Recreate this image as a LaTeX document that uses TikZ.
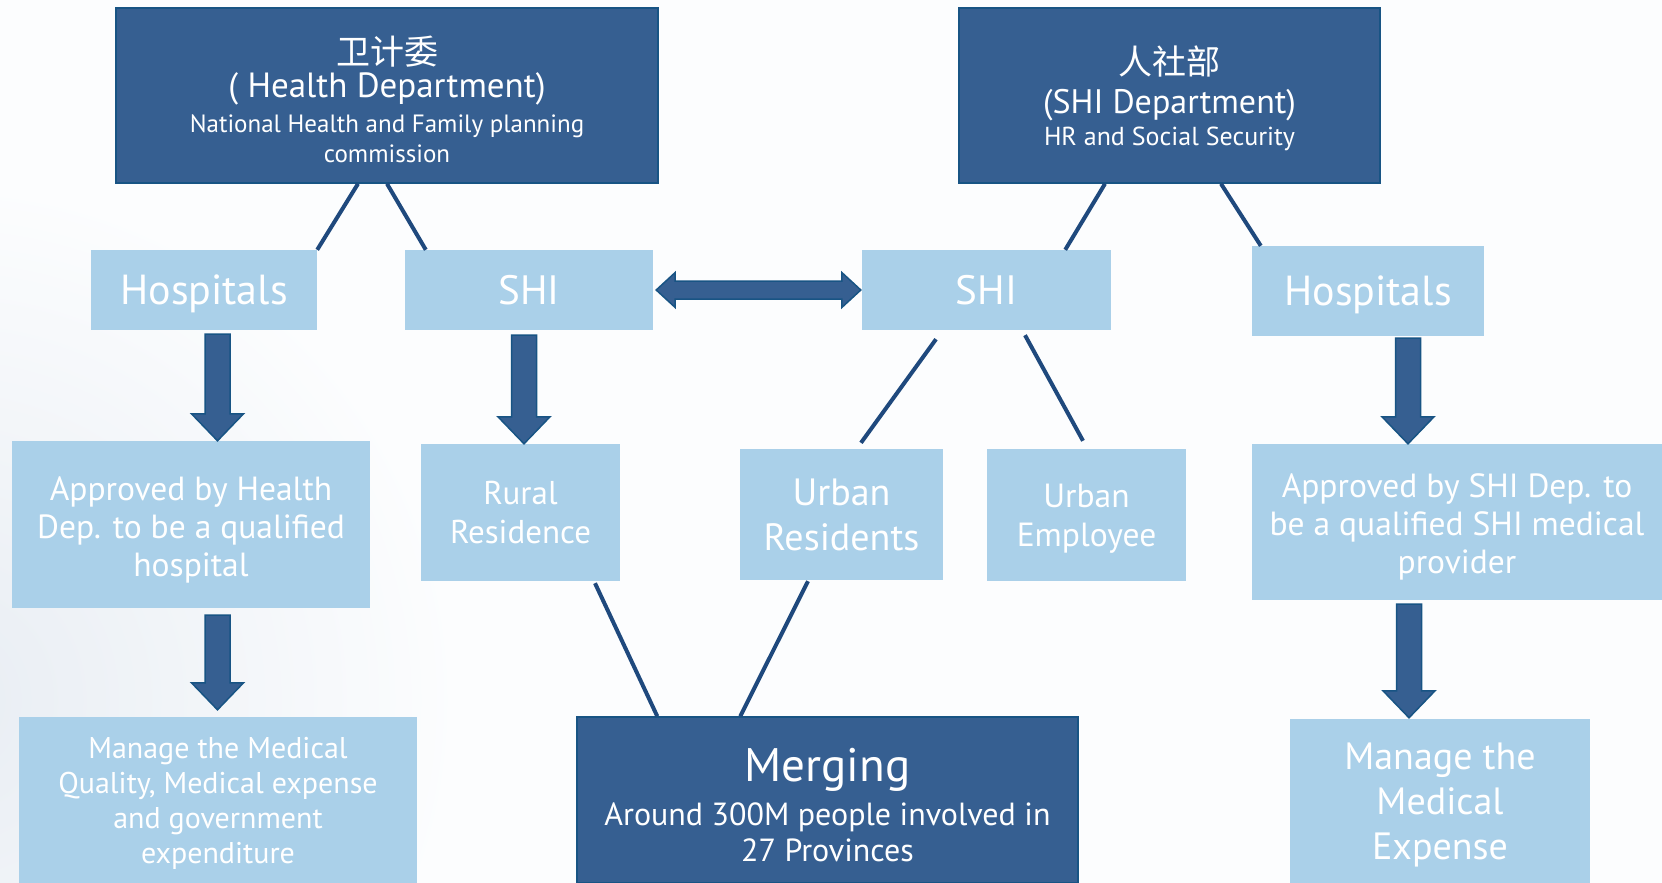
\documentclass[tikz,border=0pt]{standalone}
\usepackage{fontspec}
\setmainfont{PT Sans}
\newfontfamily\cjk{Noto Sans CJK SC}
\usetikzlibrary{calc}

\definecolor{darkfill}{RGB}{54,95,145}
\definecolor{darkline}{RGB}{24,84,132}
\definecolor{lightfill}{RGB}{170,208,233}
\definecolor{linkcol}{RGB}{31,73,125}
\definecolor{bgcol}{RGB}{252,253,254}
\definecolor{hazecol}{RGB}{232,237,243}

\newcommand{\fsz}[2]{\fontsize{#1pt}{#2pt}\selectfont}
% invisible strut that sets the height of a first line
\newcommand{\toprule}[1]{\rule{0pt}{#1pt}}

\tikzset{
  darkbox/.style={draw=darkline, line width=1.5pt, fill=darkfill, text=white,
    align=center, inner sep=0pt},
  lightbox/.style={fill=lightfill, text=white, align=center, inner sep=0pt,
    text depth=0pt},
  link/.style={draw=linkcol, line width=4pt},
  blockdown/.style={draw=darkline, line width=1.5pt, fill=darkfill,
    to path={let \p1=(\tikztostart), \p2=(\tikztotarget) in
      (\x1-12.5pt,\y1) -- (\x1+12.5pt,\y1) -- (\x1+12.5pt,\y2+27pt)
      -- (\x1+26pt,\y2+27pt) -- (\x1,\y2) -- (\x1-26pt,\y2+27pt)
      -- (\x1-12.5pt,\y2+27pt) -- cycle}},
  blockboth/.style={draw=darkline, line width=1.5pt, fill=darkfill,
    to path={let \p1=(\tikztostart), \p2=(\tikztotarget) in
      (\x1,\y1) -- (\x1+19pt,\y1+17.5pt) -- (\x1+19pt,\y1+9pt)
      -- (\x2-19pt,\y1+9pt) -- (\x2-19pt,\y1+17.5pt) -- (\x2,\y1)
      -- (\x2-19pt,\y1-17.5pt) -- (\x2-19pt,\y1-9pt)
      -- (\x1+19pt,\y1-9pt) -- (\x1+19pt,\y1-17.5pt) -- cycle}}
}

\begin{document}
\begin{tikzpicture}[x=1pt,y=-1pt]
\useasboundingbox (0,0) rectangle (1662,883);
% page background with a soft haze in the lower left
\begin{scope}
  \clip (0,0) rectangle (1662,883);
  \fill[bgcol] (0,0) rectangle (1662,883);
  \shade[inner color=hazecol, outer color=bgcol] (-60,700) circle (520);
\end{scope}

% departments
\node[darkbox, minimum width=542pt, minimum height=175pt, font=\fsz{25}{30}, text depth=0pt] (dept1) at (387,95.5)
  {\toprule{36}{\cjk\fsz{34}{38}卫计委}\\[3pt]
   {\fsz{35}{40}( Health Department)}\\[5pt]
   National Health and Family planning\\
   commission};
\node[darkbox, minimum width=421pt, minimum height=175pt, font=\fsz{26}{32}, text depth=0pt] (dept2) at (1169.5,95.5)
  {{\cjk\fsz{34}{38}人社部}\\[7pt]
   {\fsz{34}{40}(SHI Department)}\\
   HR and Social Security};

% second row
\node[lightbox, minimum width=226pt, minimum height=80pt, font=\fsz{42}{48}] (hosp1) at (204,290) {Hospitals};
\node[lightbox, minimum width=248pt, minimum height=80pt, font=\fsz{41}{48}] (shi1) at (529,290) {SHI};
\node[lightbox, minimum width=249pt, minimum height=80pt, font=\fsz{41}{48}] (shi2) at (986.5,290) {SHI};
\node[lightbox, minimum width=232pt, minimum height=90pt, font=\fsz{42}{48}] (hosp2) at (1368,291) {Hospitals};

% third row
\node[lightbox, minimum width=358pt, minimum height=167pt, font=\fsz{33.5}{38}] (appr1) at (191,524.5)
  {\toprule{27}Approved by Health\\Dep. to be a qualified\\hospital};
\node[lightbox, minimum width=199pt, minimum height=137pt, font=\fsz{33}{39}] (rural) at (520.5,512.5)
  {Rural\\Residence};
\node[lightbox, minimum width=203pt, minimum height=131pt, font=\fsz{38}{45}] (urbres) at (841.5,514.5)
  {Urban\\Residents};
\node[lightbox, minimum width=199pt, minimum height=132pt, font=\fsz{33.5}{39}] (urbemp) at (1086.5,515)
  {Urban\\Employee};
\node[lightbox, minimum width=410pt, minimum height=156pt, font=\fsz{33.5}{38}] (appr2) at (1457,522)
  {\toprule{27}Approved by SHI Dep. to\\be a qualified SHI medical\\provider};

% bottom row
\node[lightbox, minimum width=398pt, minimum height=166pt, font=\fsz{30}{35}] (man1) at (218,800)
  {Manage the Medical\\Quality, Medical expense\\and government\\expenditure};
\node[darkbox, minimum width=501pt, minimum height=166pt, font=\fsz{32}{36}, text depth=0pt] (merge) at (827.5,800)
  {\toprule{42}{\fsz{47}{50}Merging}\\[8pt]
   Around 300M people involved in\\
   27 Provinces};
\node[lightbox, minimum width=300pt, minimum height=164pt, font=\fsz{38}{45}] (man2) at (1440,801)
  {Manage the\\Medical\\Expense};

% plain connectors
\draw[link] ([xshift=-29pt]dept1.south) -- (hosp1.north east);
\draw[link] (dept1.south) -- ([xshift=21pt]shi1.north west);
\draw[link] ([xshift=-64.5pt]dept2.south) -- ([xshift=-46pt]shi2.north east);
\draw[link] ([xshift=51.5pt]dept2.south) -- ([xshift=9pt]hosp2.north west);
\draw[link] ([xshift=-50.5pt,yshift=-9pt]shi2.south) -- ([xshift=19.5pt,yshift=6pt]urbres.north);
\draw[link] ([xshift=38.5pt,yshift=-5pt]shi2.south) -- ([xshift=-3.5pt,yshift=8pt]urbemp.north);
\draw[link] ([xshift=74.5pt,yshift=-2pt]rural.south) -- ([xshift=81pt]merge.north west);
\draw[link] ([xshift=-33.5pt,yshift=-1pt]urbres.south) -- ([xshift=164pt]merge.north west);

% block arrows
\draw[blockdown] ([xshift=13.5pt,yshift=-4pt]hosp1.south) to (appr1.north);
\draw[blockdown] ([xshift=26.5pt,yshift=-7pt]appr1.south) to ([yshift=7pt]man1.north);
\draw[blockdown] ([xshift=-5pt,yshift=-5pt]shi1.south) to (rural.north);
\draw[blockdown] ([xshift=40pt,yshift=-2pt]hosp2.south) to (appr2.north);
\draw[blockdown] ([xshift=-48pt,yshift=-4pt]appr2.south) to ([yshift=1pt]man2.north);
\draw[blockboth] ([xshift=3pt]shi1.east) to ([xshift=-1pt]shi2.west);
\end{tikzpicture}
\end{document}
